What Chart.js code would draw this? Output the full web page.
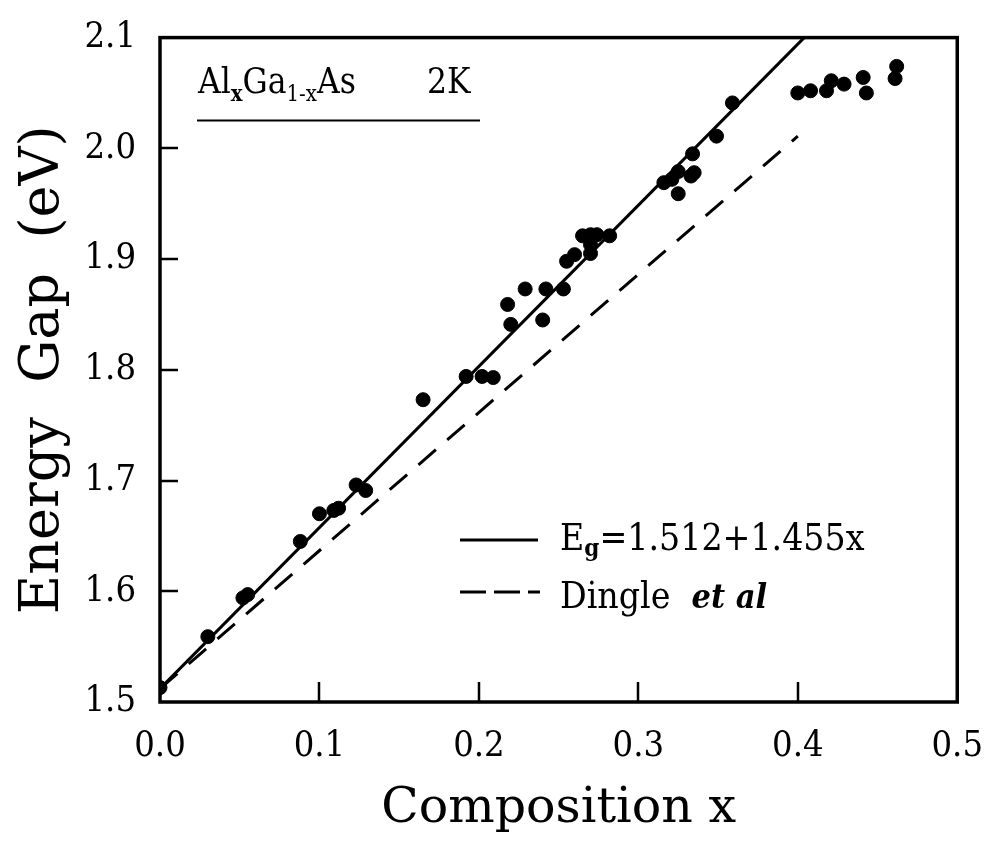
<!DOCTYPE html>
<html>
<head>
<meta charset="utf-8">
<title>AlGaAs energy gap</title>
<script src="https://cdn.jsdelivr.net/npm/chart.js@4.4.0/dist/chart.umd.min.js"></script>
<style>
  html, body { margin: 0; padding: 0; background: #fff; }
  #wrap { width: 998px; height: 843px; }
</style>
</head>
<body>
<div id="wrap"><canvas id="myChart" width="998" height="843"></canvas></div>
<script>
// measured points (composition x, energy gap in eV)
const compositionX = [0.000, 0.030, 0.052, 0.055, 0.088, 0.100, 0.109, 0.112, 0.123, 0.129,
  0.165, 0.192, 0.202, 0.209, 0.218, 0.220, 0.229, 0.240, 0.242, 0.253,
  0.255, 0.260, 0.265, 0.270, 0.274, 0.270, 0.270, 0.282, 0.316, 0.321,
  0.325, 0.325, 0.333, 0.335, 0.334, 0.349, 0.359, 0.400, 0.408, 0.418,
  0.421, 0.429, 0.441, 0.443, 0.461, 0.462];
const energyGap = [1.513, 1.559, 1.594, 1.597, 1.645, 1.670, 1.673, 1.675, 1.696, 1.691,
  1.773, 1.794, 1.794, 1.793, 1.859, 1.841, 1.873, 1.845, 1.873, 1.873,
  1.898, 1.904, 1.921, 1.922, 1.922, 1.913, 1.905, 1.921, 1.969, 1.972,
  1.979, 1.959, 1.975, 1.978, 1.995, 2.011, 2.041, 2.050, 2.052, 2.052,
  2.061, 2.058, 2.064, 2.050, 2.063, 2.074];

// fitted line Eg = 1.512 + 1.455x (end points)
const fitX = [0.0, 0.404];
const fitY = [1.512, 2.100];
// Dingle et al line (end points)
const dingleX = [0.0, 0.400];
const dingleY = [1.512, 2.011];

const xTicks = [0.0, 0.1, 0.2, 0.3, 0.4, 0.5];
const yTicks = [1.5, 1.6, 1.7, 1.8, 1.9, 2.0, 2.1];

const SERIF = "'DejaVu Serif Condensed', 'DejaVu Serif', serif";
const WIDE = "'DejaVu Serif', serif";

const toPoints = (xs, ys) => xs.map((x, i) => ({ x: x, y: ys[i] }));

// draws text pieces one after another (for subscripts)
function drawRuns(ctx, x, y, runs) {
  runs.forEach((r) => {
    ctx.font = r.font;
    ctx.fillText(r.text, x, y + (r.dy || 0));
    x += ctx.measureText(r.text).width;
  });
  return x;
}

// frame, inward ticks, inset label and legend
const framePlugin = {
  id: "frame",
  afterDatasetsDraw(chart) {
    const ctx = chart.ctx;
    const area = chart.chartArea;
    const xs = chart.scales.x;
    const ys = chart.scales.y;
    ctx.save();
    ctx.strokeStyle = "#000";
    ctx.lineWidth = 3.5;
    ctx.strokeRect(area.left, area.top, area.right - area.left, area.bottom - area.top);

    ctx.lineWidth = 2.5;
    ctx.beginPath();
    xTicks.slice(1, -1).forEach((v) => {
      const px = Math.round(xs.getPixelForValue(v));
      ctx.moveTo(px, area.bottom);
      ctx.lineTo(px, area.bottom - 20);
    });
    yTicks.slice(1, -1).forEach((v) => {
      const py = Math.round(ys.getPixelForValue(v));
      ctx.moveTo(area.left, py);
      ctx.lineTo(area.left + 18, py);
    });
    ctx.stroke();

    // inset label
    ctx.fillStyle = "#000";
    ctx.textBaseline = "alphabetic";
    ctx.textAlign = "left";
    const big = "35px " + SERIF;
    drawRuns(ctx, 198, 93, [
      { text: "Al", font: big },
      { text: "x", font: "bold 22px " + SERIF, dy: 8 },
      { text: "Ga", font: big },
      { text: "1-x", font: "22px " + SERIF, dy: 8 },
      { text: "As", font: big }
    ]);
    ctx.font = big;
    ctx.fillText("2K", 427, 93);
    ctx.lineWidth = 2;
    ctx.beginPath();
    ctx.moveTo(197, 120.5);
    ctx.lineTo(480, 120.5);
    ctx.stroke();

    // legend
    ctx.lineWidth = 3;
    ctx.beginPath();
    ctx.moveTo(460, 540);
    ctx.lineTo(538, 540);
    ctx.stroke();
    ctx.setLineDash([26, 8]);
    ctx.beginPath();
    ctx.moveTo(460, 592);
    ctx.lineTo(540, 592);
    ctx.stroke();
    ctx.setLineDash([]);

    const leg = "37px " + SERIF;
    drawRuns(ctx, 560, 550, [
      { text: "E", font: leg },
      { text: "g", font: "bold 24px " + SERIF, dy: 6 },
      { text: "=1.512+1.455x", font: leg }
    ]);
    drawRuns(ctx, 560, 608, [
      { text: "Dingle  ", font: leg },
      { text: "et al", font: "italic bold 34px " + SERIF }
    ]);
    ctx.restore();
  }
};

const ctx = document.getElementById("myChart");

new Chart(ctx, {
  type: "scatter",
  data: {
    datasets: [
      {
        label: "data",
        data: toPoints(compositionX, energyGap),
        backgroundColor: "#000",
        borderColor: "#000",
        pointRadius: 7,
        pointHoverRadius: 7,
        order: 1
      },
      {
        label: "fit",
        type: "line",
        data: toPoints(fitX, fitY),
        borderColor: "#000",
        borderWidth: 3,
        pointRadius: 0,
        fill: false,
        order: 2
      },
      {
        label: "Dingle",
        type: "line",
        data: toPoints(dingleX, dingleY),
        borderColor: "#000",
        borderWidth: 3,
        borderDash: [23, 15],
        pointRadius: 0,
        fill: false,
        order: 3
      }
    ]
  },
  options: {
    responsive: false,
    animation: false,
    devicePixelRatio: 1,
    layout: {
      padding: { top: 25, right: 31, left: 0, bottom: 0 }
    },
    plugins: {
      legend: { display: false },
      tooltip: { enabled: false }
    },
    scales: {
      x: {
        type: "linear",
        min: 0,
        max: 0.5,
        afterBuildTicks: (s) => { s.ticks = xTicks.map((v) => ({ value: v })); },
        afterFit: (s) => { s.height = 141; },
        grid: { display: false },
        border: { display: false },
        ticks: {
          color: "#000",
          padding: 15,
          maxRotation: 0,
          autoSkip: false,
          font: { family: SERIF, size: 36, lineHeight: 1.2 },
          callback: (v) => Number(v).toFixed(1)
        },
        title: {
          display: true,
          text: "Composition x",
          color: "#000",
          font: { family: WIDE, size: 49, lineHeight: 1.2 },
          padding: { top: 0, bottom: 4 }
        }
      },
      y: {
        type: "linear",
        min: 1.5,
        max: 2.1,
        afterBuildTicks: (s) => { s.ticks = yTicks.map((v) => ({ value: v })); },
        afterFit: (s) => { s.width = 160; },
        grid: { display: false },
        border: { display: false },
        ticks: {
          color: "#000",
          padding: 16,
          autoSkip: false,
          font: { family: SERIF, size: 36, lineHeight: 1.2 },
          callback: (v) => Number(v).toFixed(1)
        },
        title: {
          display: true,
          text: "Energy  Gap  (eV)",
          color: "#000",
          font: { family: WIDE, size: 54, lineHeight: 1.2 },
          padding: { top: 12, bottom: 0 }
        }
      }
    }
  },
  plugins: [framePlugin]
});
</script>
</body>
</html>
